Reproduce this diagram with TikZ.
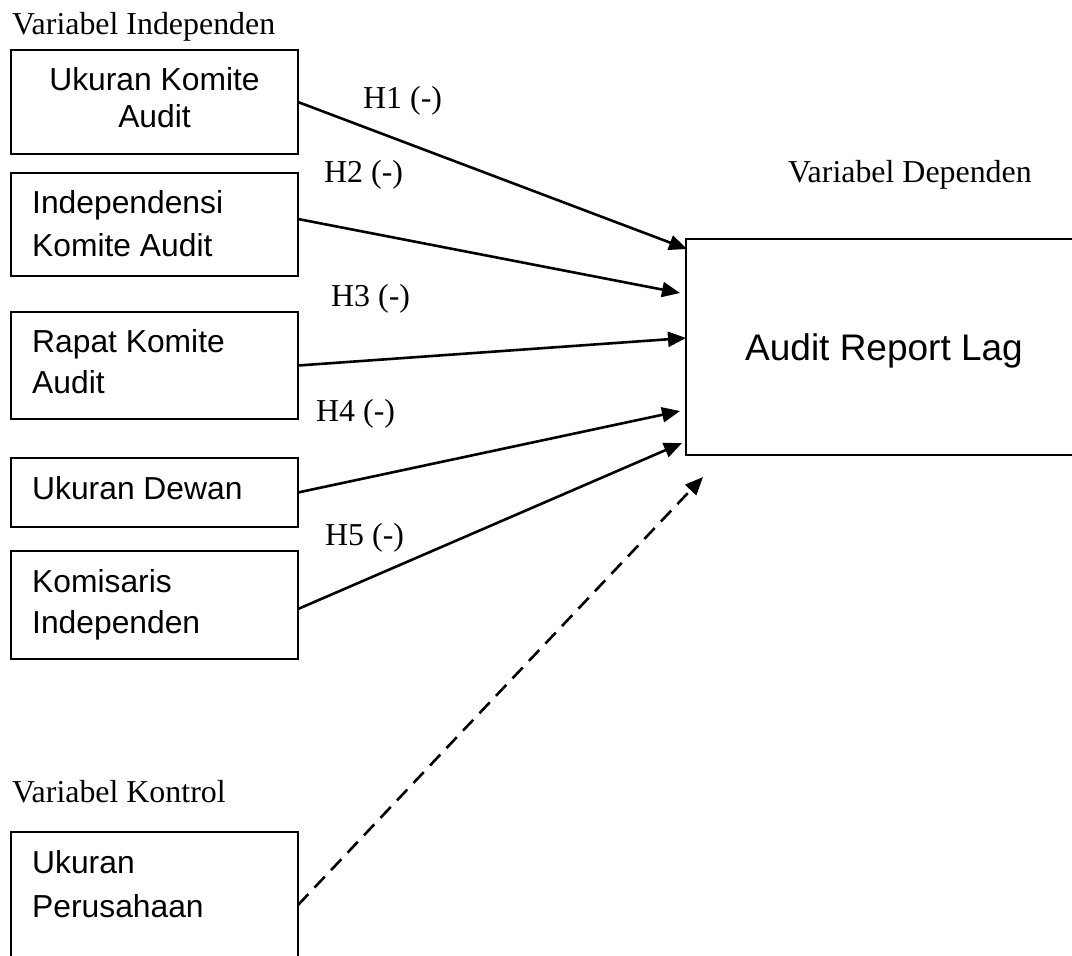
\documentclass[tikz,border=0pt]{standalone}
\usepackage{fontspec}
\setmainfont{Liberation Serif}
\newfontfamily\arialf{Liberation Sans}
\usetikzlibrary{arrows.meta,calc}
\begin{document}
\begin{tikzpicture}[x=1pt,y=-1pt,
  box/.style={draw,line width=2.2pt,minimum width=287pt,inner sep=0pt,outer sep=0pt},
  boxtxt/.style={font=\arialf\fontsize{31.8}{38}\selectfont,inner sep=0pt,anchor=base west},
  lbl/.style={font=\fontsize{31.9}{38}\selectfont,inner sep=0pt,anchor=base west},
  arr/.style={line width=2.6pt,-{Triangle[length=18pt,width=15pt]}},
  darr/.style={arr,dash pattern=on 15pt off 9pt}]
\useasboundingbox (0,0) rectangle (1072,956);
% boxes
\node[box,minimum height=104pt] (b1) at (154.5,102) {};
\node[box,minimum height=103pt] (b2) at (154.5,224.5) {};
\node[box,minimum height=107pt] (b3) at (154.5,365.5) {};
\node[box,minimum height=69pt] (b4) at (154.5,492.5) {};
\node[box,minimum height=108pt] (b5) at (154.5,605) {};
\node[box,minimum height=146pt] (b6) at (154.5,905) {};
\node[box,minimum width=404pt,minimum height=216pt] (arl) at (888,347) {};
% box texts
\node[boxtxt,anchor=base] (t1a) at (154.5,90) {Ukuran Komite};
\node[boxtxt,anchor=base] (t1b) at (154.5,127) {Audit};
\node[boxtxt] (t2a) at (32,213) {Independensi};
\node[boxtxt] (t2b) at (32,256) {Komite Audit};
\node[boxtxt] (t3a) at (32,352) {Rapat Komite};
\node[boxtxt] (t3b) at (32,393) {Audit};
\node[boxtxt] (t4a) at (32,499) {Ukuran Dewan};
\node[boxtxt] (t5a) at (32,592) {Komisaris};
\node[boxtxt] (t5b) at (32,633) {Independen};
\node[boxtxt] (t6a) at (32,873) {Ukuran};
\node[boxtxt] (t6b) at (32,917) {Perusahaan};
\node[boxtxt,font=\arialf\fontsize{37}{44}\selectfont] (tarl) at (745,360) {Audit Report Lag};
% labels
\node[lbl] (vi) at (12,34) {Variabel Independen};
\node[lbl] (vd) at (788,182) {Variabel Dependen};
\node[lbl] (vk) at (12,802) {Variabel Kontrol};
\node[lbl] (h1) at (363,108) {H1 (-)};
\node[lbl] (h2) at (324,182) {H2 (-)};
\node[lbl] (h3) at (331,306) {H3 (-)};
\node[lbl] (h4) at (316,421) {H4 (-)};
\node[lbl] (h5) at (325,545) {H5 (-)};
% arrow end points
\coordinate (e1) at (687,249);
\coordinate (e2) at (680,293);
\coordinate (e3) at (686,338);
\coordinate (e4) at (680,411);
\coordinate (e5) at (682,443);
\coordinate (e6) at (703,477);
% connectors
\draw[arr] (b1.east) -- (e1);
\draw[arr] ($(b2.east)+(0,-5.5)$) -- (e2);
\draw[arr] (b3.east) -- (e3);
\draw[arr] (b4.east) -- (e4);
\draw[arr] ($(b5.east)+(0,4)$) -- (e5);
\draw[darr] (b6.east) -- (e6);
\end{tikzpicture}
\end{document}
